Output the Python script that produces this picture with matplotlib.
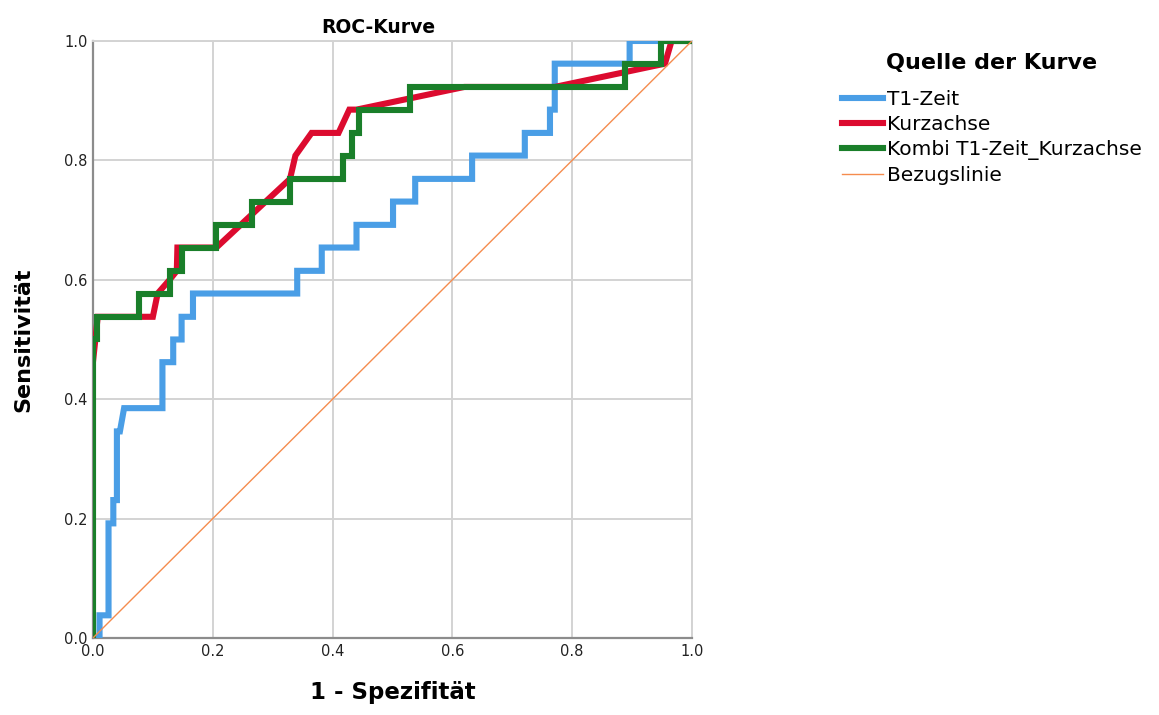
import matplotlib
matplotlib.use("Agg")
import matplotlib.pyplot as plt

# ROC-Kurven (1 - Spezifität, Sensitivität)
t1_x = [0.0, 0.011, 0.011, 0.026, 0.026, 0.034, 0.034, 0.040, 0.040, 0.045, 0.052,
        0.116, 0.116, 0.134, 0.134, 0.148, 0.148, 0.167, 0.167, 0.341, 0.341,
        0.382, 0.382, 0.440, 0.440, 0.501, 0.501, 0.538, 0.538, 0.633, 0.633,
        0.721, 0.721, 0.763, 0.763, 0.771, 0.771, 0.896, 0.896, 1.0]
t1_y = [0.0, 0.0, 0.038, 0.038, 0.192, 0.192, 0.231, 0.231, 0.346, 0.346, 0.385,
        0.385, 0.462, 0.462, 0.500, 0.500, 0.538, 0.538, 0.577, 0.577, 0.615,
        0.615, 0.654, 0.654, 0.692, 0.692, 0.731, 0.731, 0.769, 0.769, 0.808,
        0.808, 0.846, 0.846, 0.885, 0.885, 0.962, 0.962, 1.0, 1.0]

kurz_x = [0.0, 0.0, 0.008, 0.100, 0.108, 0.128, 0.140, 0.141, 0.206, 0.329,
          0.338, 0.365, 0.410, 0.428, 0.440, 0.620, 0.771, 0.955, 0.966, 1.0]
kurz_y = [0.0, 0.462, 0.538, 0.538, 0.577, 0.600, 0.615, 0.654, 0.654, 0.769,
          0.808, 0.846, 0.846, 0.885, 0.885, 0.923, 0.923, 0.962, 1.0, 1.0]

kombi_x = [0.0, 0.0, 0.006, 0.006, 0.077, 0.077, 0.128, 0.128, 0.148, 0.148,
           0.206, 0.206, 0.265, 0.265, 0.329, 0.329, 0.417, 0.417, 0.432, 0.432,
           0.444, 0.444, 0.529, 0.529, 0.889, 0.889, 0.948, 0.948, 1.0]
kombi_y = [0.0, 0.500, 0.500, 0.538, 0.538, 0.577, 0.577, 0.615, 0.615, 0.654,
           0.654, 0.692, 0.692, 0.731, 0.731, 0.769, 0.769, 0.808, 0.808, 0.846,
           0.846, 0.885, 0.885, 0.923, 0.923, 0.962, 0.962, 1.0, 1.0]

ref_x = [0.0, 1.0]
ref_y = [0.0, 1.0]

ticks = [0.0, 0.2, 0.4, 0.6, 0.8, 1.0]
tick_labels = ["0.0", "0.2", "0.4", "0.6", "0.8", "1.0"]

plt.rcParams["font.family"] = ["DejaVu Sans"]

fig = plt.figure(figsize=(11.59, 7.15), dpi=100)
ax = fig.add_axes([0.0802, 0.1077, 0.5168, 0.835])

ax.plot(t1_x, t1_y, color="#4a9ee6", lw=4.4, label="T1-Zeit", solid_joinstyle="miter", zorder=3)
ax.plot(kurz_x, kurz_y, color="#dc0b2f", lw=4.4, label="Kurzachse", solid_joinstyle="miter", zorder=3)
ax.plot(kombi_x, kombi_y, color="#1a7f2a", lw=4.4, label="Kombi T1-Zeit_Kurzachse", solid_joinstyle="miter", zorder=4)
ax.plot(ref_x, ref_y, color="#f58c4e", lw=1.0, label="Bezugslinie", zorder=5)

ax.set_xlim(0, 1)
ax.set_ylim(0, 1)
ax.set_xticks(ticks)
ax.set_xticklabels(tick_labels)
ax.set_yticks(ticks)
ax.set_yticklabels(tick_labels)
ax.tick_params(length=0, labelsize=10.5, pad=4, colors="#222222")
ax.grid(True, color="#d3d3d3", lw=1.4)
ax.set_axisbelow(True)
for side in ["top", "right"]:
    ax.spines[side].set_color("#d3d3d3")
    ax.spines[side].set_linewidth(1.4)
for side in ["left", "bottom"]:
    ax.spines[side].set_color("#8c8c8c")
    ax.spines[side].set_linewidth(1.6)

ax.set_title("ROC-Kurve", fontsize=13.5, fontweight="bold", pad=6, x=0.477)
ax.set_xlabel("1 - Spezifität", fontsize=16.5, fontweight="bold", labelpad=16)
ax.set_ylabel("Sensitivität", fontsize=16, fontweight="bold", labelpad=22)

leg = ax.legend(loc="upper left", bbox_to_anchor=(0.718, 0.94), bbox_transform=fig.transFigure,
                title="Quelle der Kurve", frameon=False, fontsize=14.5,
                handlelength=2.0, handletextpad=0.2, labelspacing=0.3, borderpad=0)
leg.get_title().set_fontweight("bold")
leg.get_title().set_fontsize(16)
leg._legend_box.sep = 12

fig.savefig("out.png", dpi=100)
